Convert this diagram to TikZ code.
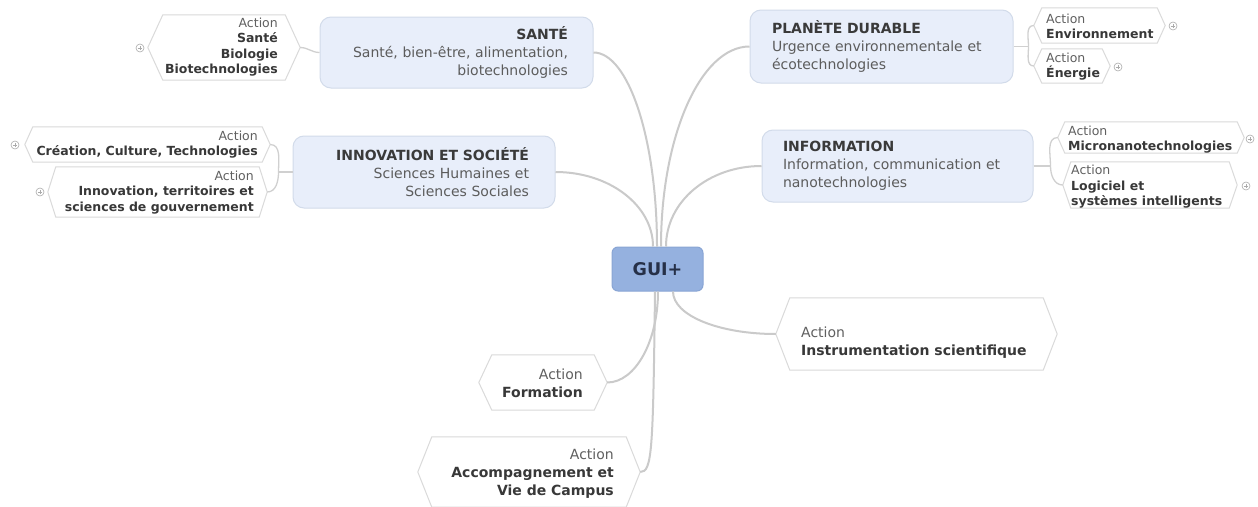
\documentclass[tikz,border=0pt]{standalone}
\usepackage{fontspec}
\setmainfont{DejaVu Sans}
\usetikzlibrary{calc}
\definecolor{boxfill}{HTML}{E8EEFA}
\definecolor{boxline}{HTML}{D2DBEA}
\definecolor{guifill}{HTML}{95B1DF}
\definecolor{guiline}{HTML}{89A5D4}
\definecolor{guitext}{HTML}{263048}
\definecolor{ttlc}{HTML}{3A3A3A}
\definecolor{bodyc}{HTML}{5C5C5C}
\definecolor{connc}{HTML}{CACACA}
\definecolor{brc}{HTML}{D0D0D0}
\definecolor{hexc}{HTML}{DADADA}
\definecolor{plusc}{HTML}{ABABAB}
\definecolor{actc}{HTML}{606060}
\definecolor{actb}{HTML}{383838}
\tikzset{
  mainbox/.style={rectangle, rounded corners=11pt, fill=boxfill, draw=boxline, line width=1pt,
    font=\fontsize{14}{18}\selectfont, text=bodyc, inner ysep=0pt},
  guibox/.style={rectangle, rounded corners=6pt, fill=guifill, draw=guiline, line width=1pt,
    minimum width=91pt, minimum height=44pt, font=\fontsize{17.5}{20}\selectfont\bfseries, text=guitext},
  hexnode/.style={rectangle, inner sep=0pt},
  hexline/.style={draw=hexc, fill=white, line width=1pt},
  smalltxt/.style={inner sep=0pt, font=\fontsize{12.5}{15.5}\selectfont, text=actc},
  bigtxt/.style={inner sep=0pt, font=\fontsize{14}{18}\selectfont, text=actc},
  conn/.style={draw=connc, line width=2pt},
  brline/.style={draw=brc, line width=1.3pt},
  plusbtn/.style={circle, draw=plusc, fill=white, line width=0.6pt, minimum size=8pt, inner sep=0pt,
    path picture={\draw[plusc, line width=0.6pt]
      ([xshift=-2.2pt]path picture bounding box.center) -- ([xshift=2.2pt]path picture bounding box.center)
      ([yshift=-2.2pt]path picture bounding box.center) -- ([yshift=2.2pt]path picture bounding box.center);}}
}
\newcommand{\ttl}[1]{{\bfseries\color{ttlc}#1}}
\newcommand{\act}[1]{{\bfseries\color{actb}#1}}
\newcommand{\hexpath}[2]{\draw[hexline] ([xshift=#2pt]#1.north west) -- ([xshift=-#2pt]#1.north east) -- (#1.east) -- ([xshift=-#2pt]#1.south east) -- ([xshift=#2pt]#1.south west) -- (#1.west) -- cycle;}
\begin{document}
\begin{tikzpicture}[x=1pt,y=1pt]
\useasboundingbox (0,0) rectangle (1258,-506);
\fill[white] (0,0) rectangle (1258,-506);

% central node
\node[guibox] (gui) at (657.5,-269) {GUI+};

% main boxes
\node[mainbox, minimum width=273pt, minimum height=71pt, text width=223pt, inner xsep=25pt, align=right] (sante) at (456.5,-52.5)
  {\ttl{SANTÉ}\\Santé, bien-être, alimentation,\\biotechnologies};
\node[mainbox, minimum width=263pt, minimum height=73pt, text width=219pt, inner xsep=22pt, align=left] (pd) at (881.5,-46.5)
  {\ttl{PLANÈTE DURABLE}\\Urgence environnementale et\\écotechnologies};
\node[mainbox, minimum width=262pt, minimum height=72pt, text width=210pt, inner xsep=26pt, align=right] (innov) at (424,-172)
  {\ttl{INNOVATION ET SOCIÉTÉ}\\Sciences Humaines et\\Sciences Sociales};
\node[mainbox, minimum width=271pt, minimum height=72pt, text width=229pt, inner xsep=21pt, align=left] (info) at (897.5,-166)
  {\ttl{INFORMATION}\\Information, communication et\\nanotechnologies};

% hexagon action nodes
\node[hexnode, minimum width=152pt, minimum height=65pt] (hSante) at (224,-47.5) {};
\hexpath{hSante}{15}
\node[hexnode, minimum width=245pt, minimum height=35pt] (hCreat) at (147.5,-144.5) {};
\hexpath{hCreat}{8}
\node[hexnode, minimum width=219pt, minimum height=50pt] (hInnovA) at (157.5,-192) {};
\hexpath{hInnovA}{8}
\node[hexnode, minimum width=131pt, minimum height=35pt] (hEnv) at (1099.5,-25.5) {};
\hexpath{hEnv}{8}
\node[hexnode, minimum width=76pt, minimum height=34pt] (hEner) at (1072,-66) {};
\hexpath{hEner}{8}
\node[hexnode, minimum width=186pt, minimum height=31pt] (hMicro) at (1151,-137.5) {};
\hexpath{hMicro}{7}
\node[hexnode, minimum width=174pt, minimum height=46pt] (hLogi) at (1150,-185) {};
\hexpath{hLogi}{8}
\node[hexnode, minimum width=281pt, minimum height=72pt] (hInstr) at (916.5,-334) {};
\hexpath{hInstr}{14}
\node[hexnode, minimum width=128pt, minimum height=55pt] (hForm) at (543,-382.5) {};
\hexpath{hForm}{13}
\node[hexnode, minimum width=222pt, minimum height=70pt] (hAcc) at (529,-472) {};
\hexpath{hAcc}{14}

% texts of the actions
\node[smalltxt, anchor=east, align=right] (tSante) at (278,-47) {Action\\\act{Santé}\\\act{Biologie}\\\act{Biotechnologies}};
\node[smalltxt, anchor=east, align=right] (tCreat) at (258,-144.5) {Action\\\act{Création, Culture, Technologies}};
\node[smalltxt, anchor=east, align=right] (tInnovA) at (254,-192.5) {Action\\\act{Innovation, territoires et}\\\act{sciences de gouvernement}};
\node[smalltxt, anchor=west, align=left] (tEnv) at (1046,-26.5) {Action\\\act{Environnement}};
\node[smalltxt, anchor=west, align=left] (tEner) at (1046,-66.5) {Action\\\act{Énergie}};
\node[smalltxt, anchor=west, align=left] (tMicro) at (1068,-139.5) {Action\\\act{Micronanotechnologies}};
\node[smalltxt, anchor=west, align=left] (tLogi) at (1071,-187) {Action\\\act{Logiciel et}\\\act{systèmes intelligents}};
\node[bigtxt, anchor=west, align=left] (tInstr) at (801,-343) {Action\\\act{Instrumentation scientifique}};
\node[bigtxt, anchor=east, align=right] (tForm) at (583,-383) {Action\\\act{Formation}};
\node[bigtxt, anchor=east, align=right] (tAcc) at (614,-474) {Action\\\act{Accompagnement et}\\\act{Vie de Campus}};

% expand buttons
\node[plusbtn] (pSante) at (140,-48) {};
\node[plusbtn] (pCreat) at (15,-145) {};
\node[plusbtn] (pInnovA) at (40,-192) {};
\node[plusbtn] (pEnv) at (1173,-26) {};
\node[plusbtn] (pEner) at (1118,-67) {};
\node[plusbtn] (pMicro) at (1250,-139) {};
\node[plusbtn] (pLogi) at (1246,-186) {};

% attachment points on the central node
\coordinate (gInnov) at ($(gui.north)+(-4.5,0)$);
\coordinate (gSante) at ($(gui.north)+(-0.5,0)$);
\coordinate (gPD) at ($(gui.north)+(3.5,0)$);
\coordinate (gInfo) at ($(gui.north)+(8.5,0)$);
\coordinate (gAcc) at ($(gui.south)+(-2.5,0)$);
\coordinate (gForm) at ($(gui.south)+(0.5,0)$);
\coordinate (gInstr) at ($(gui.south)+(15.5,0)$);

% main connectors
\draw[conn] (gSante) .. controls ($(gSante)+(0,107)$) and ($(sante.east)+(35,0)$) .. (sante.east);
\draw[conn] (gPD) .. controls ($(gPD)+(0,110)$) and ($(pd.west)+(-49,0)$) .. (pd.west);
\draw[conn] (gInnov) .. controls ($(gInnov)+(0,41)$) and ($(innov.east)+(54,0)$) .. (innov.east);
\draw[conn] (gInfo) .. controls ($(gInfo)+(0,45)$) and ($(info.west)+(-53,0)$) .. (info.west);
\draw[conn] (gInstr) .. controls ($(gInstr)+(0,-24)$) and ($(hInstr.west)+(-57,0)$) .. (hInstr.west);
\draw[conn] (gForm) .. controls ($(gForm)+(0,-50)$) and ($(hForm.east)+(28,0)$) .. (hForm.east);
\draw[conn] (gAcc) .. controls ($(gAcc)+(-2,-160)$) and ($(hAcc.east)+(12,0)$) .. (hAcc.east);

% brackets to the actions
\draw[brline] (sante.west) to[out=180,in=0] (hSante.east);

\coordinate (jPD) at ($(pd.east)+(15,0)$);
\draw[brline] (pd.east) -- (jPD);
\draw[brline] (jPD) to[out=90,in=180] (hEnv.west);
\draw[brline] (jPD) to[out=-90,in=180] (hEner.west);

\coordinate (jInnov) at ($(innov.west)+(-14,0)$);
\draw[brline] (innov.west) -- (jInnov);
\draw[brline] (jInnov) to[out=90,in=0] (hCreat.east);
\draw[brline] (jInnov) to[out=-90,in=0] (hInnovA.east);

\coordinate (jInfo) at ($(info.east)+(17,0)$);
\draw[brline] (info.east) -- (jInfo);
\draw[brline] (jInfo) to[out=90,in=180] (hMicro.west);
\draw[brline] (jInfo) to[out=-90,in=180] (hLogi.west);
\end{tikzpicture}
\end{document}
